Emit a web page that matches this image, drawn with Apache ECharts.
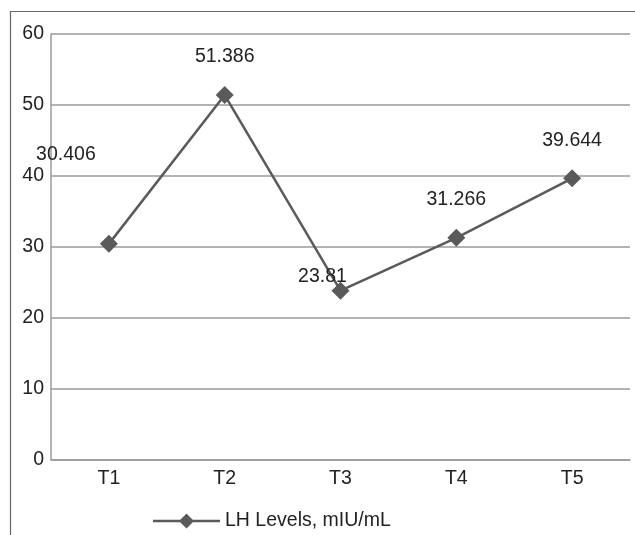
<!DOCTYPE html>
<html>
<head>
<meta charset="utf-8">
<script src="https://cdn.jsdelivr.net/npm/echarts@6/dist/echarts.min.js"></script>
<style>
  html, body { margin: 0; padding: 0; background: #fff; }
  #chart { width: 635px; height: 535px; }
</style>
</head>
<body>
<div id="chart"></div>
<script>
// Time points and LH measurements
const categories = ['T1', 'T2', 'T3', 'T4', 'T5'];
const lhValues = [30.406, 51.386, 23.81, 31.266, 39.644];
const seriesName = 'LH Levels, mIU/mL';
const yTicks = { min: 0, max: 60, interval: 10 };

// Per-point label nudges (pixels) so labels sit clear of the line
const labelOffsets = [[-43, -65], [0, -14], [-18, 10], [0, -14], [0, -14]];

const textColor = '#222';
const gridColor = '#9a9a9a';
const lineColor = '#5a5a5a';
const font = '"Liberation Sans", Arial, sans-serif';
const fontSize = 19.5;

// Legend key: a short line with a diamond in the middle
const legendIcon = 'path://M0,6.3 L67,6.3 L67,8.7 L0,8.7 Z M33.5,0 L41,7.5 L33.5,15 L26,7.5 Z';

const chart = echarts.init(document.getElementById('chart'), null, { renderer: 'canvas' });

chart.setOption({
  animation: false,
  backgroundColor: '#fff',
  textStyle: { fontFamily: font },
  graphic: [
    { type: 'line', shape: { x1: 10, y1: 11.5, x2: 635, y2: 11.5 }, style: { stroke: '#666', lineWidth: 1.2 } },
    { type: 'line', shape: { x1: 10.5, y1: 11, x2: 10.5, y2: 535 }, style: { stroke: '#666', lineWidth: 1.2 } }
  ],
  grid: { left: 51, right: 5, top: 34, bottom: 75.5, containLabel: false },
  legend: {
    left: 148,
    top: 506,
    itemWidth: 67,
    itemHeight: 15,
    itemGap: 0,
    textStyle: { color: textColor, fontSize: fontSize, fontFamily: font },
    data: [{ name: seriesName, icon: legendIcon, itemStyle: { color: lineColor } }]
  },
  xAxis: {
    type: 'category',
    data: categories,
    boundaryGap: true,
    axisLine: { show: true, lineStyle: { color: gridColor, width: 1.5 } },
    axisTick: { show: false },
    axisLabel: { color: textColor, fontSize: fontSize, margin: 9, fontFamily: font }
  },
  yAxis: {
    type: 'value',
    min: yTicks.min,
    max: yTicks.max,
    interval: yTicks.interval,
    axisLine: { show: true, lineStyle: { color: gridColor, width: 1.5 } },
    axisTick: { show: false },
    axisLabel: { color: textColor, fontSize: fontSize, margin: 7, fontFamily: font },
    splitLine: { show: true, lineStyle: { color: gridColor, width: 1.5 } }
  },
  series: [{
    name: seriesName,
    type: 'line',
    data: lhValues.map((v, i) => ({
      value: v,
      label: { offset: labelOffsets[i] }
    })),
    symbol: 'diamond',
    symbolSize: 18,
    itemStyle: { color: lineColor },
    lineStyle: { color: lineColor, width: 2.5 },
    label: {
      show: true,
      position: 'top',
      color: textColor,
      fontSize: fontSize,
      fontFamily: font,
      formatter: p => String(p.value)
    }
  }]
});
</script>
</body>
</html>
